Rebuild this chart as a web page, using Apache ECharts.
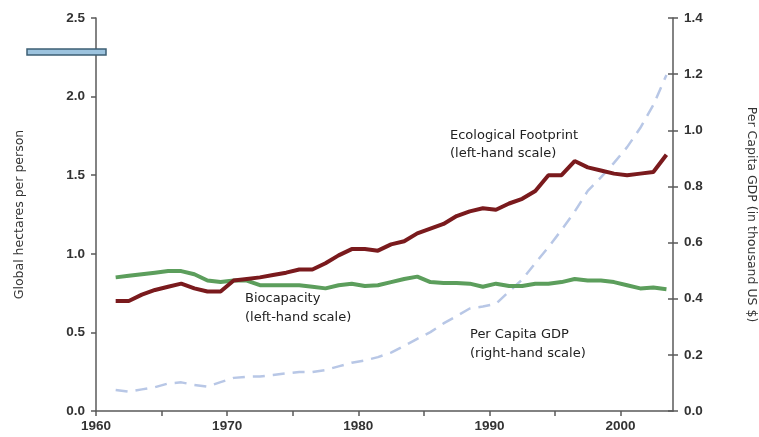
<!DOCTYPE html>
<html>
<head>
<meta charset="utf-8">
<script src="https://cdn.jsdelivr.net/npm/echarts@6/dist/echarts.min.js"></script>
<style>
html,body{margin:0;padding:0;background:#fff;}
#c{width:759px;height:437px;}
</style>
</head>
<body>
<div id="c"></div>
<script>
var years = [1961,1962,1963,1964,1965,1966,1967,1968,1969,1970,
             1971,1972,1973,1974,1975,1976,1977,1978,1979,1980,
             1981,1982,1983,1984,1985,1986,1987,1988,1989,1990,
             1991,1992,1993,1994,1995,1996,1997,1998,1999,2000,
             2001,2002,2003];

var footprint = [0.70,0.70,0.74,0.77,0.79,0.81,0.78,0.76,0.76,0.83,
                 0.84,0.85,0.865,0.88,0.90,0.90,0.94,0.99,1.03,1.03,
                 1.02,1.06,1.08,1.13,1.16,1.19,1.24,1.27,1.29,1.28,
                 1.32,1.35,1.40,1.50,1.50,1.59,1.55,1.53,1.51,1.50,
                 1.51,1.52,1.63];

var biocapacity = [0.85,0.86,0.87,0.88,0.89,0.89,0.87,0.83,0.82,0.83,
                   0.83,0.80,0.80,0.80,0.80,0.79,0.78,0.80,0.81,0.795,
                   0.80,0.82,0.84,0.855,0.82,0.815,0.815,0.81,0.79,0.81,
                   0.795,0.795,0.81,0.81,0.82,0.84,0.83,0.83,0.82,0.80,
                   0.78,0.785,0.775];

var gdp = [0.075,0.069,0.077,0.085,0.098,0.102,0.093,0.087,0.103,0.118,
           0.122,0.123,0.128,0.134,0.139,0.139,0.146,0.159,0.172,0.180,
           0.192,0.208,0.232,0.257,0.281,0.312,0.338,0.365,0.372,0.382,
           0.426,0.468,0.527,0.584,0.645,0.71,0.784,0.832,0.884,0.94,
           1.008,1.09,1.197];

var leftTicks = [0,0.5,1.0,1.5,2.0,2.5];
var rightTicks = [0,0.2,0.4,0.6,0.8,1.0,1.2,1.4];

function pairs(vals){
  return years.map(function(y,i){ return [y + 0.5, vals[i]]; });
}

var axisCol = '#5a5a5a';
var labelStyle = {color:'#333', fontFamily:'Liberation Sans, Arial, sans-serif', fontWeight:'bold', fontSize:13.5};
var nameStyle = {color:'#333', fontFamily:'DejaVu Sans, sans-serif', fontSize:12.5};
var txt = {fontFamily:'DejaVu Sans, sans-serif', fontSize:13, fill:'#222'};

var chart = echarts.init(document.getElementById('c'));
chart.setOption({
  animation:false,
  backgroundColor:'#fff',
  grid:{left:96, right:86, top:18, bottom:26, containLabel:false, outerBoundsMode:'none'},
  xAxis:{
    type:'value', min:1960, max:2004, interval:5,
    axisLine:{lineStyle:{color:axisCol, width:1.5}},
    axisTick:{show:true, length:5, lineStyle:{color:axisCol, width:1.5}},
    splitLine:{show:false},
    axisLabel:Object.assign({margin:8, showMaxLabel:false, formatter:function(v){ return v % 10 === 0 ? String(v) : ''; }}, labelStyle)
  },
  yAxis:[
    {
      type:'value', position:'left', min:leftTicks[0], max:leftTicks[leftTicks.length-1], interval:0.5,
      name:'Global hectares per person', nameLocation:'middle', nameGap:70, nameRotate:90,
      nameTextStyle:nameStyle,
      axisLine:{show:true, lineStyle:{color:axisCol, width:1.5}},
      axisTick:{show:true, length:5, lineStyle:{color:axisCol, width:1.5}},
      splitLine:{show:false},
      axisLabel:Object.assign({margin:11, formatter:function(v){return v.toFixed(1);}}, labelStyle)
    },
    {
      type:'value', position:'right', min:rightTicks[0], max:rightTicks[rightTicks.length-1], interval:0.2,
      name:'Per Capita GDP (in thousand US $)', nameLocation:'middle', nameGap:72, nameRotate:-90,
      nameTextStyle:nameStyle,
      axisLine:{show:true, lineStyle:{color:axisCol, width:1.5}},
      axisTick:{show:true, length:5, lineStyle:{color:axisCol, width:1.5}},
      splitLine:{show:false},
      axisLabel:Object.assign({margin:11, formatter:function(v){return v.toFixed(1);}}, labelStyle)
    },
    {
      type:'value', position:'right', min:rightTicks[0], max:rightTicks[rightTicks.length-1], interval:0.2,
      axisLine:{show:false},
      axisTick:{show:true, inside:true, length:5, lineStyle:{color:axisCol, width:1.5}},
      splitLine:{show:false},
      axisLabel:{show:false}
    }
  ],
  series:[
    {
      name:'Per Capita GDP', type:'line', yAxisIndex:1, data:pairs(gdp),
      symbol:'none', smooth:false,
      lineStyle:{color:'#b8c7e6', width:2.5, type:[12,8]}, z:2
    },
    {
      name:'Biocapacity', type:'line', yAxisIndex:0, data:pairs(biocapacity),
      symbol:'none', lineStyle:{color:'#5c9e5c', width:4}, z:3
    },
    {
      name:'Ecological Footprint', type:'line', yAxisIndex:0, data:pairs(footprint),
      symbol:'none', lineStyle:{color:'#7a1a1d', width:4}, z:4
    }
  ],
  graphic:[
    {type:'rect', shape:{x:27, y:49, width:79, height:6}, style:{fill:'#9cc3de', stroke:'#3d5f74', lineWidth:1.5}, z:10},
    {type:'text', x:450, y:127, style:Object.assign({text:'Ecological Footprint\n(left-hand scale)', lineHeight:18}, txt)},
    {type:'text', x:245, y:289, style:Object.assign({text:'Biocapacity\n(left-hand scale)', lineHeight:19}, txt)},
    {type:'text', x:470, y:325, style:Object.assign({text:'Per Capita GDP\n(right-hand scale)', lineHeight:19}, txt)}
  ]
});
</script>
</body>
</html>
